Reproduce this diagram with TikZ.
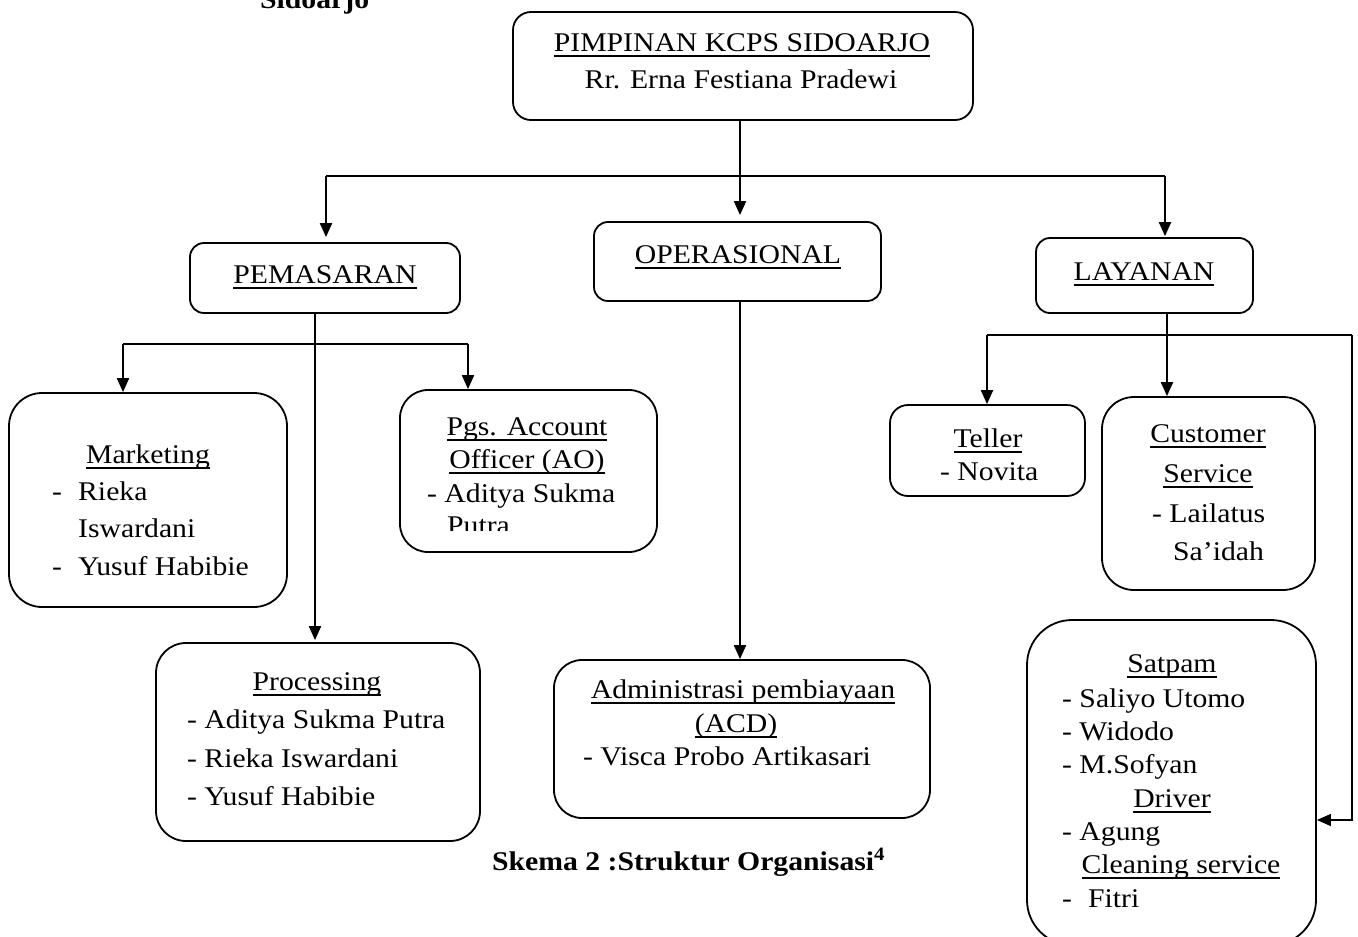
\documentclass[tikz,border=0pt]{standalone}
\usepackage{fontspec}
\setmainfont[FakeStretch=1.1]{Liberation Serif}
\usetikzlibrary{arrows.meta}
\newsavebox\ulbox
\newcommand{\ulx}[1]{\sbox\ulbox{#1}\rlap{\rule[-6pt]{\wd\ulbox}{1.6pt}}\usebox\ulbox}
\tikzset{
  box/.style={draw, line width=1.8pt, rounded corners=#1, inner sep=0pt},
  box/.default=20pt,
  txt/.style={inner sep=0pt, anchor=base, font=\fontsize{27}{32}\selectfont},
  txl/.style={txt, anchor=base west},
  conn/.style={line width=2pt},
  thinline/.style={line width=1.3pt},
  tip/.style={-{Triangle[length=14pt,width=12pt]}},
  arr/.style={conn, tip}
}
\begin{document}
\begin{tikzpicture}[x=1pt,y=-1pt]
\clip (0,0) rectangle (1358,937);
\fill[white] (0,0) rectangle (1358,937);

% boxes
\node[box=18pt, minimum width=460pt, minimum height=108pt] (top) at (743,66) {};
\node[box=14pt, minimum width=270pt, minimum height=70pt] (pem) at (325,278) {};
\node[box=14pt, minimum width=287pt, minimum height=79pt] (ops) at (737.5,261.5) {};
\node[box=14pt, minimum width=217pt, minimum height=75pt] (lay) at (1144.5,275.5) {};
\node[box=33pt, minimum width=278pt, minimum height=214pt] (mkt) at (148,500) {};
\node[box=28pt, minimum width=257pt, minimum height=162pt] (pgs) at (528.5,471) {};
\node[box=30pt, minimum width=324pt, minimum height=198pt] (proc) at (318,742) {};
\node[box=28pt, minimum width=376pt, minimum height=158pt] (acd) at (742,739) {};
\node[box=18pt, minimum width=195pt, minimum height=91pt] (tel) at (987.5,450.5) {};
\node[box=32pt, minimum width=213pt, minimum height=193pt] (cs) at (1208.5,493.5) {};
\node[box=45pt, minimum width=289pt, minimum height=325pt] (sat) at (1171.5,782.5) {};

% texts
\node[txt, font=\fontsize{27}{32}\selectfont\bfseries, anchor=base west] (sid) at (260,8) {Sidoarjo};
\node[txt] (t1) at (742,51) {\ulx{PIMPINAN KCPS SIDOARJO}};
\node[txt] (t2) at (741,88) {Rr. Erna Festiana Pradewi};
\node[txt] (t3) at (325,283) {\ulx{PEMASARAN}};
\node[txt] (t4) at (738,263) {\ulx{OPERASIONAL}};
\node[txt] (t5) at (1144,280) {\ulx{LAYANAN}};

\node[txt] (m0) at (148,463) {\ulx{Marketing}};
\node[txl] (m1) at (52,500) {\makebox[26pt][l]{-}Rieka};
\node[txl] (m2) at (78,537) {Iswardani};
\node[txl] (m3) at (52,575) {\makebox[26pt][l]{-}Yusuf Habibie};

\node[txt] (g0) at (527,435) {\ulx{Pgs. Account}};
\node[txt] (g1) at (527,468) {\ulx{Officer (AO)}};
\node[txl] (g2) at (427,502) {- Aditya Sukma};
\begin{scope}
\clip (400,390) rectangle (657,530);
\node[txl] (g3) at (447,534) {Putra};
\end{scope}

\node[txt] (p0) at (317,690) {\ulx{Processing}};
\node[txl] (p1) at (187,728) {- Aditya Sukma Putra};
\node[txl] (p2) at (187,767) {- Rieka Iswardani};
\node[txl] (p3) at (187,805) {- Yusuf Habibie};

\node[txt] (a0) at (743,698) {\ulx{Administrasi pembiayaan}};
\node[txt] (a1) at (736,732) {\ulx{(ACD)}};
\node[txl] (a2) at (583,765) {- Visca Probo Artikasari};

\node[txt] (e0) at (988,447) {\ulx{Teller}};
\node[txl] (e1) at (940,480) {- Novita};

\node[txt] (c0) at (1208,442) {\ulx{Customer}};
\node[txt] (c1) at (1208,482) {\ulx{Service}};
\node[txl] (c2) at (1152,522) {- Lailatus};
\node[txl] (c3) at (1173,560) {Sa’idah};

\node[txt] (s0) at (1172,672) {\ulx{Satpam}};
\node[txl] (s1) at (1062,707) {- Saliyo Utomo};
\node[txl] (s2) at (1062,740) {- Widodo};
\node[txl] (s3) at (1062,773) {- M.Sofyan};
\node[txt] (s4) at (1172,807) {\ulx{Driver}};
\node[txl] (s5) at (1062,840) {- Agung};
\node[txt] (s6) at (1181,873) {\ulx{Cleaning service}};
\node[txl] (s7) at (1062,907) {\makebox[26pt][l]{-}Fitri};

\node[txl, font=\fontsize{27}{32}\selectfont\bfseries] (cap) at (492,870) {Skema 2 :Struktur Organisasi\textsuperscript{4}};

% connectors
\coordinate (xa) at (740,176);
\coordinate (bl) at (326,176);
\coordinate (br) at (1165,176);
\draw[arr] (top.south -| xa) -- ([yshift=6pt]ops.north -| xa);
\draw[thinline] (bl) -- (br);
\draw[arr] (bl) -- ([yshift=5pt]pem.north -| bl);
\draw[arr] (br) -- ([yshift=1pt]lay.north -| br);

\coordinate (pv) at (315,0);
\draw[arr] (pem.south -| pv) -- ([yshift=2pt]proc.north -| pv);
\coordinate (ml) at (123,344);
\coordinate (mr) at (468,344);
\draw[thinline] (ml) -- (mr);
\draw[arr] (ml) -- (mkt.north -| ml);
\draw[arr] (mr) -- (pgs.north -| mr);

\coordinate (ov) at (740,0);
\draw[arr] (ops.south -| ov) -- (acd.north -| ov);

\coordinate (lv) at (1167,0);
\draw[arr] (lay.south -| lv) -- (cs.north -| lv);
\coordinate (tl) at (987,335);
\coordinate (tr) at (1352,335);
\coordinate (sa) at (1352,820);
\draw[thinline] (tl) -- (tr);
\draw[thinline, tip] (tr) -- (sa) -- (sat.east |- sa);
\draw[arr] (tl) -- (tel.north -| tl);
\end{tikzpicture}
\end{document}
